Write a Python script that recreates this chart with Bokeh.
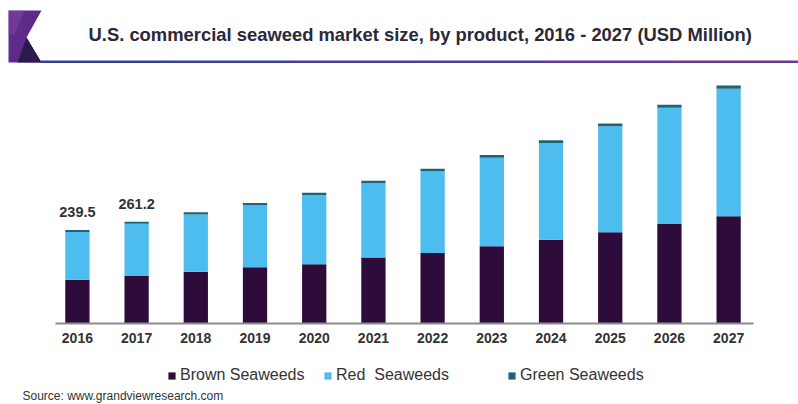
from bokeh.plotting import figure
from bokeh.models import Range1d, Legend, LegendItem, ColumnDataSource
from bokeh.core.properties import value
from bokeh.embed import file_html
from bokeh.resources import INLINE

# ---- data ----
years = [2016, 2017, 2018, 2019, 2020, 2021, 2022, 2023, 2024, 2025, 2026, 2027]
year_labels = [str(y) for y in years]
brown = [112.0, 122.0, 133.0, 144.0, 152.0, 169.0, 181.0, 198.0, 215.0, 234.0, 255.0, 275.0]
red = [122.5, 133.9, 146.5, 159.2, 177.5, 190.7, 209.5, 227.2, 248.0, 271.7, 298.5, 327.2]
green = [5.0, 5.3, 5.5, 5.8, 6.0, 6.3, 6.5, 6.8, 7.0, 7.3, 7.5, 7.8]
series_names = ["Brown Seaweeds", "Red  Seaweeds", "Green Seaweeds"]
label_years = [2016, 2017]
label_values = [239.5, 261.2]

title_text = "U.S. commercial seaweed market size, by product, 2016 - 2027 (USD Million)"
source_text = "Source: www.grandviewresearch.com"

FONT = value("Liberation Sans")
colors = ["#2d0c3c", "#4dbdf0", "#1f6377"]
TEXT_COLOR = "#333333"

# ---- geometry: the plot area (page pixels) and its scale ----
W, H = 798, 404
AX_L, AX_R = 55, 753          # extent of the category axis
BASE = 323                    # baseline (value 0)
X_FIRST, X_LAST = 2015.63, 2027.42
PXU = (X_LAST - X_FIRST) / (AX_R - AX_L)   # x units per pixel
YPU = 641.0 / 250.0                        # y units per pixel
X_LO = X_FIRST - AX_L * PXU
X_HI = X_FIRST + (W - AX_L) * PXU
Y_HI = BASE * YPU
Y_LO = -(H - BASE) * YPU


def dx(px):
    return X_LO + px * PXU


def dy(py):
    return (BASE - py) * YPU


src = ColumnDataSource(dict(year=years, brown=brown, red=red, green=green))
p = figure(width=W, height=H, x_range=Range1d(X_LO, X_HI), y_range=Range1d(Y_LO, Y_HI),
           toolbar_location=None, output_backend="svg", min_border=0,
           x_axis_location=None, y_axis_location=None)
p.grid.visible = False
p.outline_line_color = None
p.background_fill_color = "white"

# ---- header: logo, title, rule ----
p.patch([dx(v) for v in [8, 41, 26, 41, 8]], [dy(v) for v in [10, 10, 37, 62, 62]],
        color="#5e2b88", line_color=None)
p.patch([dx(v) for v in [8, 24, 14, 8]], [dy(v) for v in [10, 10, 34, 34]],
        color="#8a4bb0", alpha=0.45, line_color=None)
p.patch([dx(v) for v in [26, 17, 41]], [dy(v) for v in [37, 62, 62]],
        color="#2a1a50", line_color=None)
rule_cols = ["#34408f", "#3c3f92", "#463e94", "#523d94", "#5f3c93", "#6c3b92"]
seg_w = (W - 40) / len(rule_cols)
for i, c in enumerate(rule_cols):
    p.patch([dx(40 + i * seg_w), dx(40 + (i + 1) * seg_w + 0.5),
             dx(40 + (i + 1) * seg_w + 0.5), dx(40 + i * seg_w)],
            [dy(60), dy(60), dy(62.5), dy(62.5)], color=c, line_color=None)
p.text(x=[dx(88)], y=[dy(34)], text=[title_text], text_font=FONT, text_font_style="bold",
       text_font_size="18.4px", text_baseline="middle", text_align="left",
       text_color="#2b2838")

# ---- stacked bars ----
renderers = p.vbar_stack(["brown", "red", "green"], x="year", width=0.41, source=src,
                         color=colors, line_color=None)

# value labels on the first two bars
p.text(x=label_years, y=label_values, text=[f"{v}" for v in label_values],
       text_font=FONT, text_font_size="14.5px", text_font_style="bold",
       text_color=TEXT_COLOR, text_align="center", text_baseline="middle", y_offset=-18)

# category axis: baseline and year labels
p.segment(x0=[X_FIRST], y0=[0], x1=[X_LAST], y1=[0], line_color="#8c8c8c", line_width=2)
p.text(x=years, y=[0] * len(years), text=year_labels, text_font=FONT,
       text_font_size="14px", text_font_style="bold", text_color=TEXT_COLOR,
       text_align="center", text_baseline="middle", y_offset=14)

# ---- legend: one entry per series, placed like the original ----
legend_left = [167, 323, 507]
for name, r, lx in zip(series_names, renderers, legend_left):
    lg = Legend(items=[LegendItem(label=name, renderers=[r])],
                orientation="horizontal", location=(lx, H - 385),
                label_text_font="Liberation Sans", label_text_font_size="16px",
                label_text_color=TEXT_COLOR, glyph_width=9, glyph_height=9,
                label_standoff=4, spacing=0, padding=0, margin=0, label_height=20,
                border_line_color=None, background_fill_alpha=0)
    p.add_layout(lg, "center")

# ---- source ----
p.text(x=[dx(22)], y=[dy(395)], text=[source_text], text_font=FONT, text_font_size="12px",
       text_baseline="middle", text_align="left", text_color=TEXT_COLOR)

open("out.html", "w").write(file_html(p, INLINE))
